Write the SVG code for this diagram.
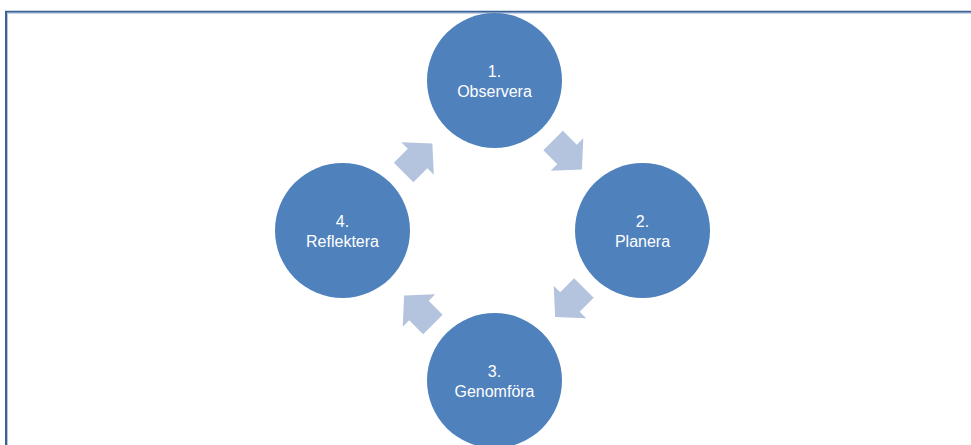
<svg xmlns="http://www.w3.org/2000/svg" width="971" height="445" viewBox="0 0 971 445">
<defs>
<style>
.node circle{fill:#4f81bd;}
.node text{fill:#ffffff;font-family:"Liberation Sans",Arial,sans-serif;font-size:16px;text-anchor:middle;}
.arrow{fill:#b4c4de;}
.frame{fill:none;stroke:#3a6296;stroke-width:2;}
.frame2{fill:none;stroke:#b3c4dc;stroke-width:1;}
</style>
<polygon id="arr" points="-20.35,-13.8 -0.65,-13.8 -0.65,-23 20.35,0 -0.65,23 -0.65,13.8 -20.35,13.8"/>
</defs>
<rect width="971" height="445" fill="#ffffff"/>
<path class="frame" d="M6,445 V11.7 H971"/>
<path class="frame2" d="M7.5,445 V13.2 H971"/>
<g id="connectors">
<use href="#arr" class="arrow" transform="translate(418,158) rotate(-45)"/>
<use href="#arr" class="arrow" transform="translate(567.5,155) rotate(45)"/>
<use href="#arr" class="arrow" transform="translate(569.5,302.5) rotate(135)"/>
<use href="#arr" class="arrow" transform="translate(418.5,310) rotate(-135)"/>
</g>
<g id="node1" class="node">
<circle cx="494.5" cy="80.5" r="67.5"/>
<text x="494.5" y="77">1.</text>
<text x="494.5" y="97">Observera</text>
</g>
<g id="node2" class="node">
<circle cx="642.5" cy="230.5" r="67.5"/>
<text x="642.5" y="227">2.</text>
<text x="642.5" y="247">Planera</text>
</g>
<g id="node3" class="node">
<circle cx="494.5" cy="380.5" r="67.5"/>
<text x="494.5" y="377">3.</text>
<text x="494.5" y="397">Genomföra</text>
</g>
<g id="node4" class="node">
<circle cx="342.5" cy="230.5" r="67.5"/>
<text x="342.5" y="227">4.</text>
<text x="342.5" y="247">Reflektera</text>
</g>
</svg>
